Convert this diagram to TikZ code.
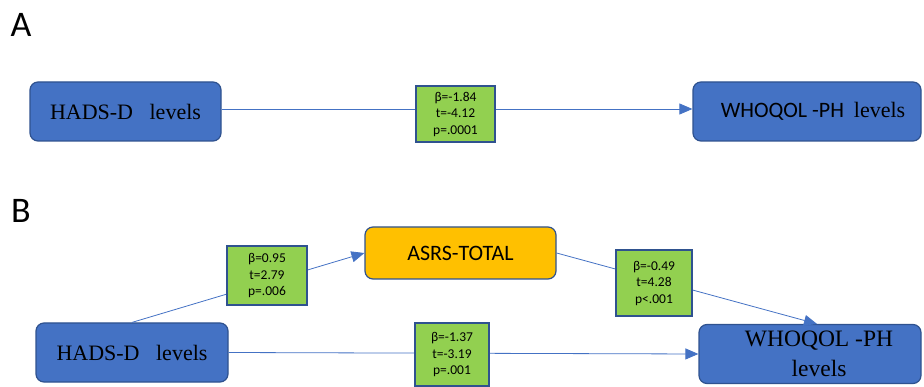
\documentclass[tikz,border=0pt]{standalone}
\usepackage{fontspec}
\setmainfont{Liberation Serif}
\newfontfamily\calfont{Carlito}
\usetikzlibrary{arrows.meta,calc}
\definecolor{boxblue}{HTML}{4472C4}
\definecolor{edgeblue}{HTML}{2F528F}
\definecolor{gfill}{HTML}{92D050}
\definecolor{ofill}{HTML}{FFC000}
\definecolor{connblue}{HTML}{4472C4}
\begin{document}
\begin{tikzpicture}[x=1pt,y=-1pt,
 bluebox/.style={draw=edgeblue, line width=1.2pt, fill=boxblue, rounded corners=8pt, inner sep=0pt, align=center, font=\fontsize{22}{26}\selectfont},
 midbox/.style={draw=edgeblue, line width=1.2pt, fill=ofill, rounded corners=8pt, inner sep=0pt, font=\calfont\fontsize{22}{26}\selectfont},
 statbox/.style={draw=edgeblue, line width=1.6pt, fill=gfill, inner sep=0pt, align=center, font=\calfont\fontsize{13.5}{16.5}\selectfont},
 conn/.style={draw=connblue, line width=0.8pt, -{Triangle[length=13pt,width=11pt]}},
 panel/.style={font=\calfont\fontsize{36}{36}\selectfont, inner sep=0pt}]
\useasboundingbox (0,0) rectangle (924,387);
% panel labels
\node[panel] (labA) at (21,25) {A};
\node[panel] (labB) at (21,211) {B};
% panel A
\node[bluebox, minimum width=191pt, minimum height=59pt] (hadsA) at (125.5,111.5) {HADS-D\hspace{0.75em}levels};
\node[bluebox, minimum width=228pt, minimum height=59pt] (whoA) at (807,111.5) {\hspace*{12pt}{\calfont WHOQOL -PH}\hspace{0.45em}levels};
\coordinate (lineA) at (0,109);
\draw[conn] (hadsA.east |- lineA) -- (whoA.west |- lineA);
\node[statbox, minimum width=79pt, minimum height=56pt] (statA) at (455.5,114) {β=-1.84\\t=-4.12\\p=.0001};
% panel B
\node[bluebox, minimum width=192pt, minimum height=59pt] (hadsB) at (132,352.5) {HADS-D\hspace{0.75em}levels};
\node[midbox, minimum width=191pt, minimum height=52pt] (asrs) at (460.5,253) {ASRS-TOTAL};
\node[bluebox, minimum width=222pt, minimum height=59pt, font=\fontsize{23.5}{30}\selectfont] (whoB) at (810,354) {\hspace*{18pt}WHOQOL -PH\\\hspace*{18pt}levels};
\draw[conn] (hadsB.north) -- (asrs.west);
\draw[conn] (asrs.east) -- ($(whoB.north)+(7,0)$);
\draw[conn] (hadsB.east) -- (whoB.west);
\node[statbox, minimum width=80pt, minimum height=59pt] (statB1) at (267,275.5) {β=0.95\\t=2.79\\p=.006};
\node[statbox, minimum width=76pt, minimum height=66pt] (statB2) at (654,283) {β=-0.49\\t=4.28\\p<.001};
\node[statbox, minimum width=74pt, minimum height=63pt] (statB3) at (452,354.5) {β=-1.37\\t=-3.19\\p=.001};
\end{tikzpicture}
\end{document}
